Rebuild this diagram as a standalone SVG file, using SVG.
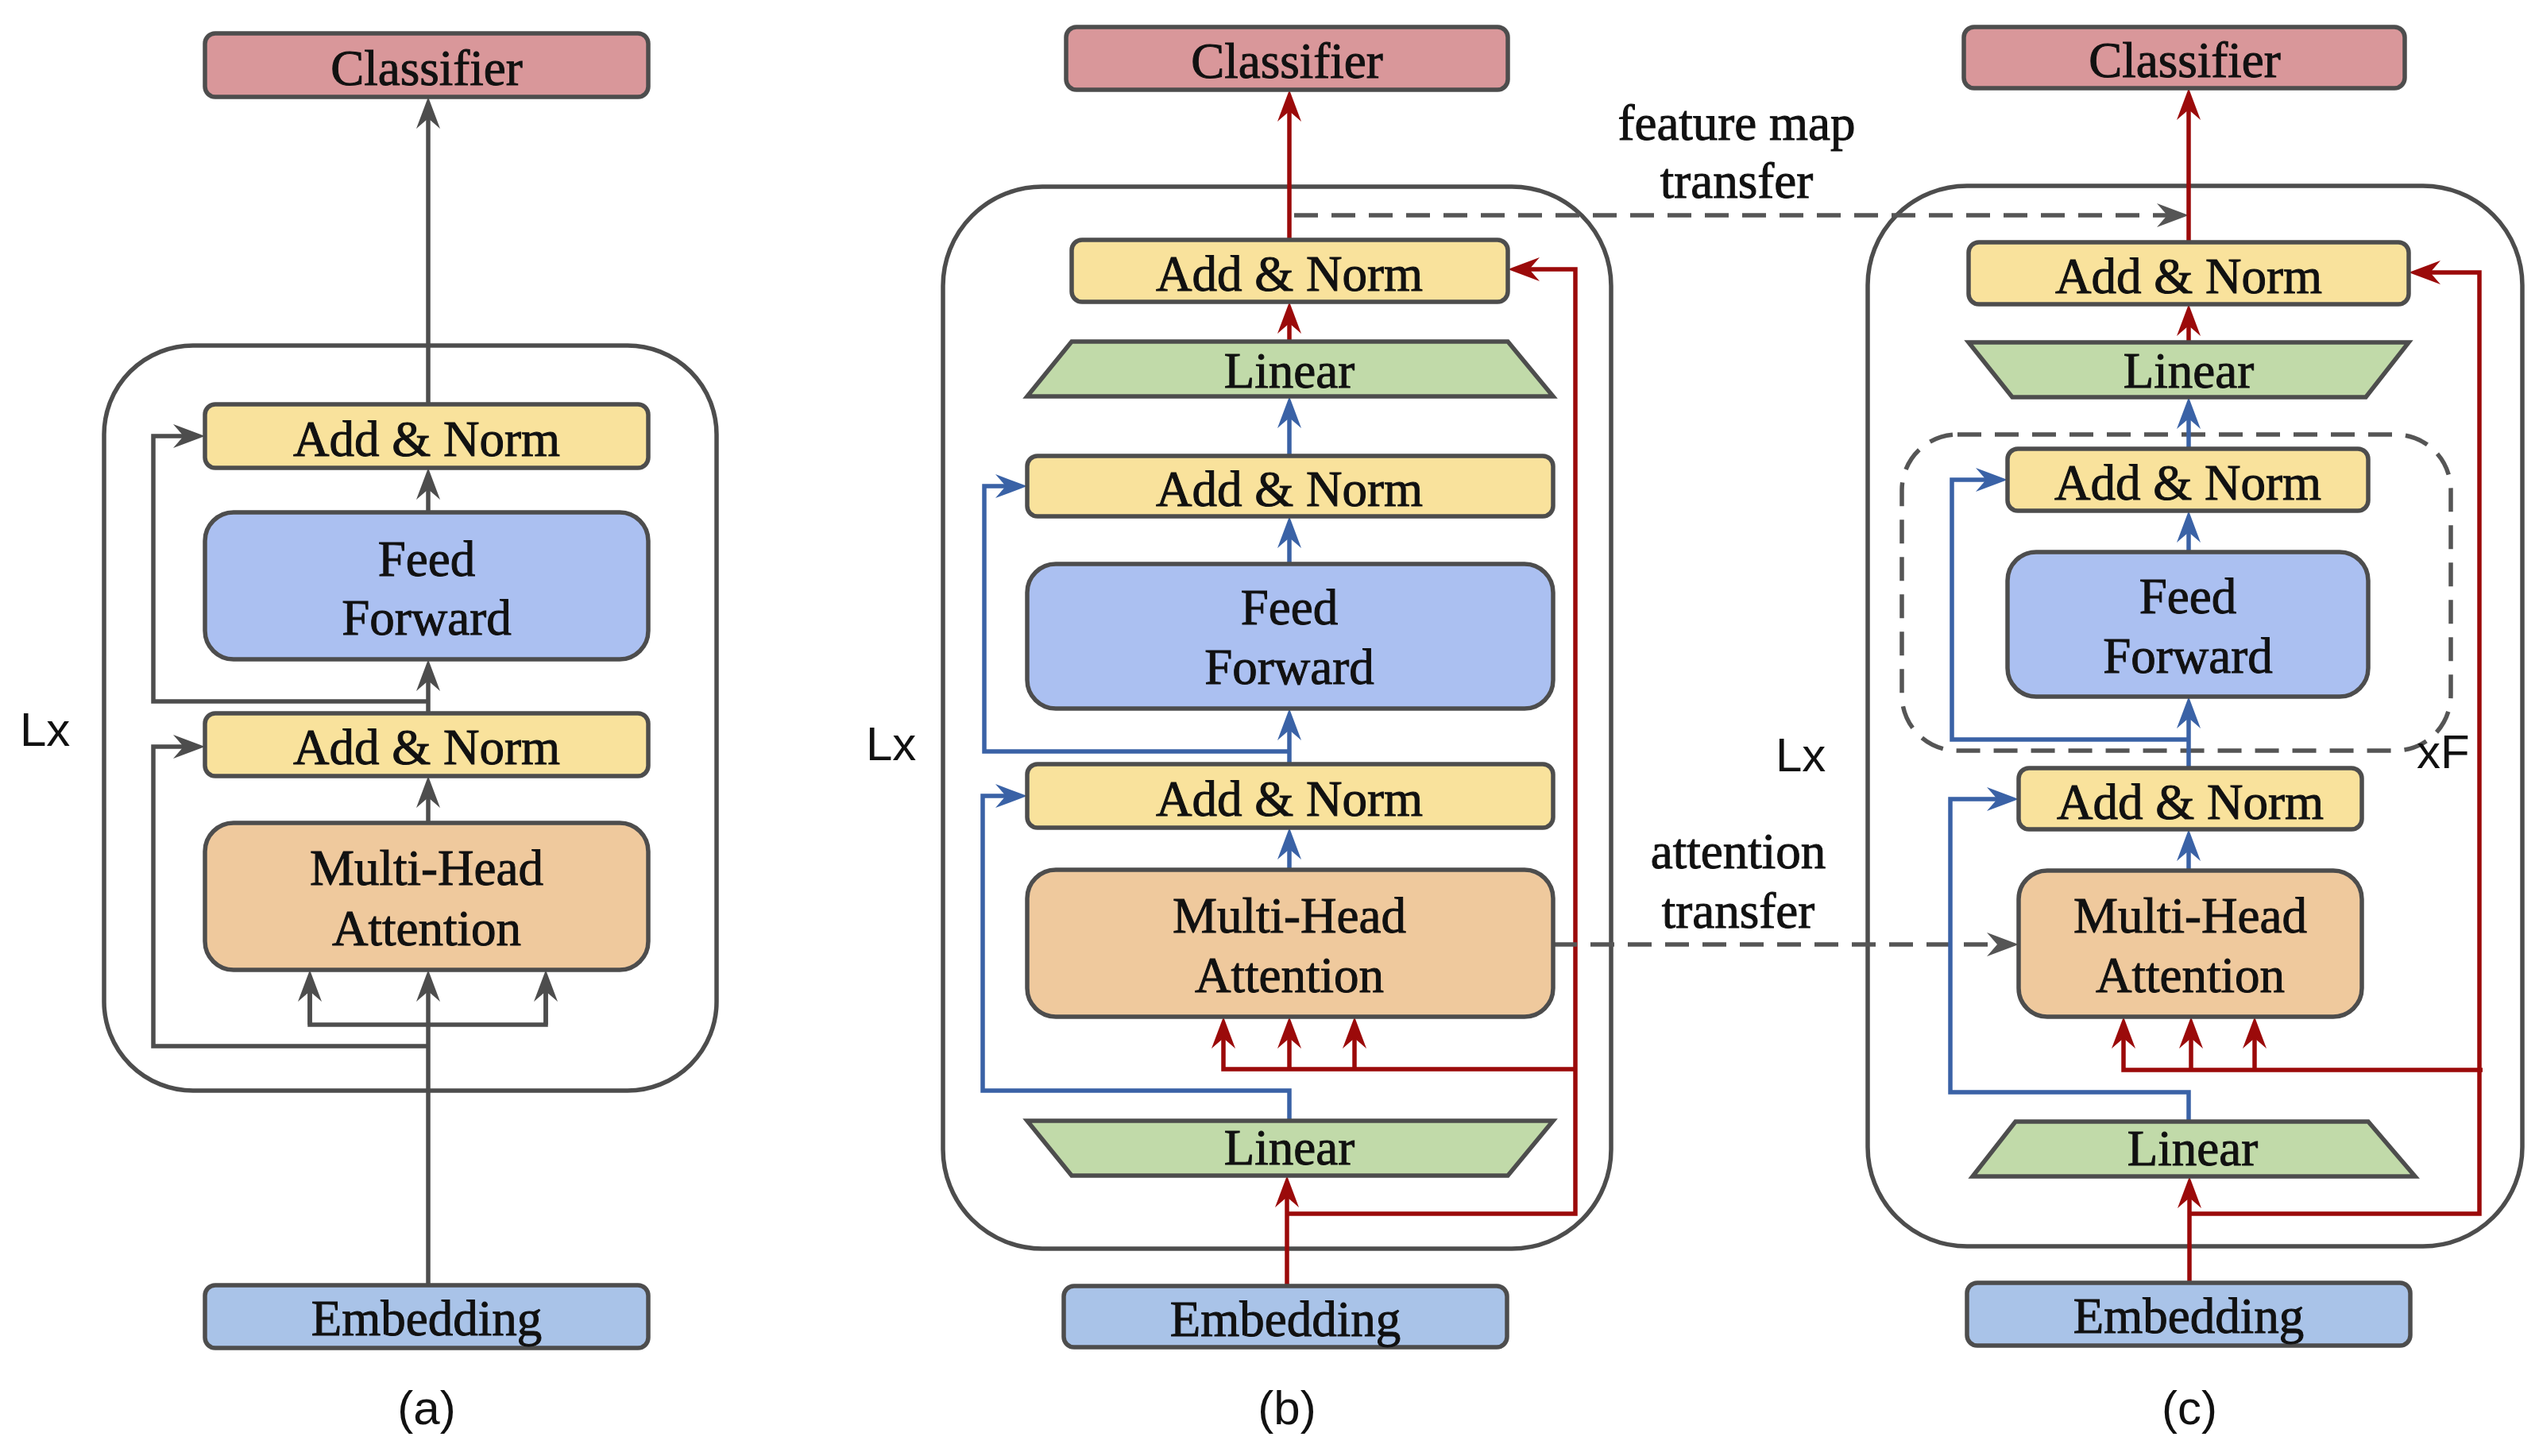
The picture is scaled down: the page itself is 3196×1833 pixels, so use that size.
<svg xmlns="http://www.w3.org/2000/svg" width="3196" height="1833" viewBox="0 0 3196 1833">
<style>
.n{stroke:#4d4d4d;stroke-width:5.5}
.cls{fill:#d9979a}
.an{fill:#f9e29c}
.ff{fill:#abc0f1}
.mha{fill:#efc99d}
.lin{fill:#c1daa9}
.emb{fill:#a9c3e8}
.t{font-family:"Liberation Serif","Times New Roman",serif;font-size:63px;fill:#111;stroke:#111;stroke-width:1;text-anchor:middle}
.s{font-family:"Liberation Sans",Arial,sans-serif;font-size:60px;fill:#111}
.outer{fill:none;stroke:#4d4d4d;stroke-width:5.5}
.dash{fill:none;stroke:#555;stroke-width:5.5;stroke-dasharray:30 17}
.g{fill:none;stroke:#4d4d4d;stroke-width:5.5}
.r{fill:none;stroke:#9b0a0a;stroke-width:5.5}
.b{fill:none;stroke:#3a62a6;stroke-width:5.5}
</style>
<defs>
<marker id="ag" markerUnits="userSpaceOnUse" markerWidth="60" markerHeight="40" viewBox="-45 -20 60 40" refX="-10" refY="0" orient="auto"><path d="M0,0 L-40,-15 L-27,0 L-40,15 Z" fill="#4d4d4d"/></marker>
<marker id="ar" markerUnits="userSpaceOnUse" markerWidth="60" markerHeight="40" viewBox="-45 -20 60 40" refX="-10" refY="0" orient="auto"><path d="M0,0 L-40,-15 L-27,0 L-40,15 Z" fill="#9b0a0a"/></marker>
<marker id="ab" markerUnits="userSpaceOnUse" markerWidth="60" markerHeight="40" viewBox="-45 -20 60 40" refX="-10" refY="0" orient="auto"><path d="M0,0 L-40,-15 L-27,0 L-40,15 Z" fill="#3a62a6"/></marker>
<marker id="ad" markerUnits="userSpaceOnUse" markerWidth="60" markerHeight="40" viewBox="-45 -20 60 40" refX="-10" refY="0" orient="auto"><path d="M0,0 L-40,-15 L-27,0 L-40,15 Z" fill="#555"/></marker>
</defs>
<rect width="3196" height="1833" fill="#fff"/>

<!-- containers -->
<g id="containers">
<rect id="block-a" class="outer" x="131" y="435" width="771" height="938" rx="112"/>
<rect id="block-b" class="outer" x="1187" y="235" width="841" height="1337" rx="125"/>
<rect id="block-c" class="outer" x="2351" y="234" width="824" height="1335" rx="125"/>
<rect id="repeat-f" class="dash" x="2394" y="547" width="691" height="398" rx="70"/>
</g>

<!-- connectors -->
<g id="connectors">
<!-- panel a -->
<path class="g" d="M539,1618 V1231" marker-end="url(#ag)"/>
<path class="g" d="M390,1231 V1290 H687 V1231" />
<path class="g" d="M390,1290 V1231" marker-end="url(#ag)"/>
<path class="g" d="M687,1290 V1231" marker-end="url(#ag)"/>
<path class="g" d="M539,1317 H193 V940 H248" marker-end="url(#ag)"/>
<path class="g" d="M539,1036 V987" marker-end="url(#ag)"/>
<path class="g" d="M539,898 V840" marker-end="url(#ag)"/>
<path class="g" d="M539,883 H193 V549 H248" marker-end="url(#ag)"/>
<path class="g" d="M539,645 V599" marker-end="url(#ag)"/>
<path class="g" d="M539,509 V132" marker-end="url(#ag)"/>
<!-- panel b red -->
<path class="r" d="M1620,1619 V1490" marker-end="url(#ar)"/>
<path class="r" d="M1620,1528 H1983 V339 H1908" marker-end="url(#ar)"/>
<path class="r" d="M1983,1346 H1540 V1290" marker-end="url(#ar)"/>
<path class="r" d="M1623,1346 V1290" marker-end="url(#ar)"/>
<path class="r" d="M1705,1346 V1290" marker-end="url(#ar)"/>
<path class="r" d="M1623,430 V390" marker-end="url(#ar)"/>
<path class="r" d="M1623,302 V123" marker-end="url(#ar)"/>
<!-- panel b blue -->
<path class="b" d="M1623,1411 V1373 H1237 V1002 H1283" marker-end="url(#ab)"/>
<path class="b" d="M1623,1095 V1052" marker-end="url(#ab)"/>
<path class="b" d="M1623,962 V902" marker-end="url(#ab)"/>
<path class="b" d="M1623,946 H1239 V612 H1283" marker-end="url(#ab)"/>
<path class="b" d="M1623,710 V660" marker-end="url(#ab)"/>
<path class="b" d="M1623,574 V509" marker-end="url(#ab)"/>
<!-- transfers -->
<path class="dash" d="M1629,271 H2745" marker-end="url(#ad)"/>
<path class="dash" d="M1955,1189 H2531" marker-end="url(#ad)"/>
<!-- panel c red -->
<path class="r" d="M2756,1615 V1491" marker-end="url(#ar)"/>
<path class="r" d="M2756,1528 H3121 V343 H3042" marker-end="url(#ar)"/>
<path class="r" d="M3125,1347 H2673 V1290" marker-end="url(#ar)"/>
<path class="r" d="M2758,1347 V1290" marker-end="url(#ar)"/>
<path class="r" d="M2838,1347 V1290" marker-end="url(#ar)"/>
<path class="r" d="M2755,431 V393" marker-end="url(#ar)"/>
<path class="r" d="M2755,305 V121" marker-end="url(#ar)"/>
<!-- panel c blue -->
<path class="b" d="M2755,1412 V1375 H2455 V1006 H2531" marker-end="url(#ab)"/>
<path class="b" d="M2755,1096 V1054" marker-end="url(#ab)"/>
<path class="b" d="M2755,967 V887" marker-end="url(#ab)"/>
<path class="b" d="M2755,931 H2457 V604 H2517" marker-end="url(#ab)"/>
<path class="b" d="M2755,695 V653" marker-end="url(#ab)"/>
<path class="b" d="M2755,565 V510" marker-end="url(#ab)"/>
</g>

<!-- panel a nodes -->
<g id="a-classifier"><rect class="n cls" x="258" y="42" width="558" height="80" rx="13"/><text class="t" x="537" y="107">Classifier</text></g>
<g id="a-addnorm2"><rect class="n an" x="258" y="509" width="558" height="80" rx="13"/><text class="t" x="537" y="574">Add &amp; Norm</text></g>
<g id="a-ff"><rect class="n ff" x="258" y="645" width="558" height="185" rx="36"/><text class="t" x="537" y="725">Feed</text><text class="t" x="537" y="799">Forward</text></g>
<g id="a-addnorm1"><rect class="n an" x="258" y="898" width="558" height="79" rx="13"/><text class="t" x="537" y="962">Add &amp; Norm</text></g>
<g id="a-mha"><rect class="n mha" x="258" y="1036" width="558" height="185" rx="36"/><text class="t" x="537" y="1114">Multi-Head</text><text class="t" x="537" y="1190">Attention</text></g>
<g id="a-embedding"><rect class="n emb" x="258" y="1618" width="558" height="79" rx="13"/><text class="t" x="537" y="1681">Embedding</text></g>

<!-- panel b nodes -->
<g id="b-classifier"><rect class="n cls" x="1342" y="34" width="556" height="79" rx="13"/><text class="t" x="1620" y="98">Classifier</text></g>
<g id="b-addnorm3"><rect class="n an" x="1349" y="302" width="549" height="78" rx="13"/><text class="t" x="1623" y="366">Add &amp; Norm</text></g>
<g id="b-linear2"><polygon class="n lin" points="1349,430 1898,430 1955,499 1293,499"/><text class="t" x="1623" y="488">Linear</text></g>
<g id="b-addnorm2"><rect class="n an" x="1293" y="574" width="662" height="76" rx="13"/><text class="t" x="1623" y="637">Add &amp; Norm</text></g>
<g id="b-ff"><rect class="n ff" x="1293" y="710" width="662" height="182" rx="36"/><text class="t" x="1623" y="786">Feed</text><text class="t" x="1623" y="861">Forward</text></g>
<g id="b-addnorm1"><rect class="n an" x="1293" y="962" width="662" height="80" rx="13"/><text class="t" x="1623" y="1027">Add &amp; Norm</text></g>
<g id="b-mha"><rect class="n mha" x="1293" y="1095" width="662" height="185" rx="36"/><text class="t" x="1623" y="1174">Multi-Head</text><text class="t" x="1623" y="1249">Attention</text></g>
<g id="b-linear1"><polygon class="n lin" points="1293,1411 1955,1411 1898,1480 1349,1480"/><text class="t" x="1623" y="1466">Linear</text></g>
<g id="b-embedding"><rect class="n emb" x="1339" y="1619" width="558" height="77" rx="13"/><text class="t" x="1618" y="1682">Embedding</text></g>

<!-- panel c nodes -->
<g id="c-classifier"><rect class="n cls" x="2472" y="34" width="555" height="77" rx="13"/><text class="t" x="2750" y="97">Classifier</text></g>
<g id="c-addnorm3"><rect class="n an" x="2478" y="305" width="554" height="78" rx="13"/><text class="t" x="2755" y="369">Add &amp; Norm</text></g>
<g id="c-linear2"><polygon class="n lin" points="2478,431 3032,431 2978,500 2533,500"/><text class="t" x="2755" y="488">Linear</text></g>
<g id="c-addnorm2"><rect class="n an" x="2527" y="565" width="454" height="78" rx="13"/><text class="t" x="2754" y="629">Add &amp; Norm</text></g>
<g id="c-ff"><rect class="n ff" x="2527" y="695" width="454" height="182" rx="36"/><text class="t" x="2754" y="772">Feed</text><text class="t" x="2754" y="847">Forward</text></g>
<g id="c-addnorm1"><rect class="n an" x="2541" y="967" width="432" height="77" rx="13"/><text class="t" x="2757" y="1031">Add &amp; Norm</text></g>
<g id="c-mha"><rect class="n mha" x="2541" y="1096" width="432" height="184" rx="36"/><text class="t" x="2757" y="1174">Multi-Head</text><text class="t" x="2757" y="1249">Attention</text></g>
<g id="c-linear1"><polygon class="n lin" points="2537,1412 2981,1412 3040,1481 2483,1481"/><text class="t" x="2760" y="1467">Linear</text></g>
<g id="c-embedding"><rect class="n emb" x="2476" y="1615" width="558" height="79" rx="13"/><text class="t" x="2755" y="1678">Embedding</text></g>

<!-- labels -->
<g id="labels">
<text class="t" x="2186" y="176">feature map</text>
<text class="t" x="2186" y="249">transfer</text>
<text class="t" x="2188" y="1093">attention</text>
<text class="t" x="2188" y="1168">transfer</text>
<text class="s" x="25" y="939">Lx</text>
<text class="s" x="1090" y="957">Lx</text>
<text class="s" x="2235" y="971">Lx</text>
<text class="s" x="3042" y="967">xF</text>
<text class="s" x="537" y="1793" text-anchor="middle">(a)</text>
<text class="s" x="1620" y="1793" text-anchor="middle">(b)</text>
<text class="s" x="2756" y="1793" text-anchor="middle">(c)</text>
</g>
</svg>
